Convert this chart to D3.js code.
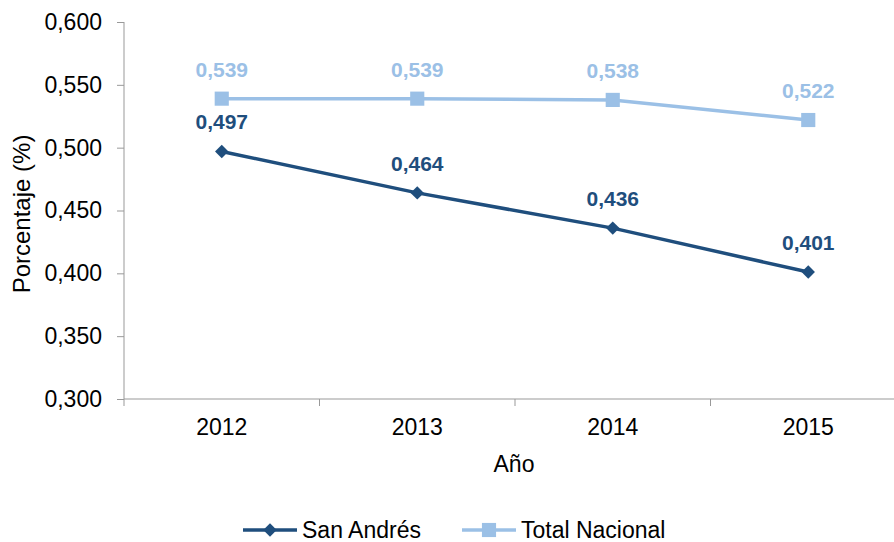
<!DOCTYPE html>
<html>
<head>
<meta charset="utf-8">
<script src="https://cdn.jsdelivr.net/npm/d3@7"></script>
<style>
  body { margin: 0; background: #fff; }
  text { font-family: "Liberation Sans", Arial, sans-serif; }
</style>
</head>
<body>
<svg width="894" height="542"></svg>
<script>
var years = ["2012", "2013", "2014", "2015"];
var sanAndres = [0.497, 0.464, 0.436, 0.401];
var totalNacional = [0.539, 0.539, 0.538, 0.522];
var yTicks = [0.300, 0.350, 0.400, 0.450, 0.500, 0.550, 0.600];

var svg = d3.select("svg");
var plotLeft = 124, plotTop = 22, plotBottom = 399, bandW = 195.5;

var x = d3.scaleBand().domain(years).range([plotLeft, plotLeft + bandW * years.length]);
var y = d3.scaleLinear().domain([0.3, 0.6]).range([plotBottom, plotTop]);
var fmt = function(v) { return d3.format(".3f")(v).replace(".", ","); };

var dark = "#1F4E7D", light = "#9BC0E6";
var fs = 23;

// y axis
var yAxis = svg.append("g").attr("transform", "translate(" + plotLeft + ",0)")
  .call(d3.axisLeft(y).tickValues(yTicks).tickFormat(fmt).tickSize(7).tickPadding(15));
yAxis.select(".domain").attr("stroke", "#999").attr("d", "M0," + plotTop + "V" + (plotBottom + 7));
yAxis.selectAll(".tick line").attr("stroke", "#999");
yAxis.selectAll(".tick text").attr("font-size", fs).attr("fill", "#000")
  .style("font-family", "Liberation Sans, Arial, sans-serif");

// x axis
var xg = svg.append("g").attr("transform", "translate(0," + plotBottom + ")");
xg.append("line").attr("x1", plotLeft).attr("x2", 894).attr("stroke", "#999");
xg.selectAll("line.tk").data(years.slice(1)).enter().append("line").attr("class", "tk")
  .attr("x1", function(d) { return x(d); }).attr("x2", function(d) { return x(d); })
  .attr("y1", 0).attr("y2", 7).attr("stroke", "#999");
xg.selectAll("text").data(years).enter().append("text")
  .attr("x", function(d) { return x(d) + x.bandwidth() / 2; })
  .attr("y", 36).attr("text-anchor", "middle").attr("font-size", fs).text(function(d) { return d; });

// axis titles
svg.append("text").attr("transform", "translate(30,214) rotate(-90)")
  .attr("text-anchor", "middle").attr("font-size", 24).text("Porcentaje (%)");
svg.append("text").attr("x", 514).attr("y", 472).attr("text-anchor", "middle")
  .attr("font-size", fs).text("Año");

var cx = function(d, i) { return x(years[i]) + x.bandwidth() / 2; };
var line = d3.line().x(cx).y(function(d) { return y(d); });

function drawSeries(vals, color, isSquare) {
  var g = svg.append("g");
  g.append("path").datum(vals).attr("d", line).attr("fill", "none")
    .attr("stroke", color).attr("stroke-width", 3.5);
  g.selectAll("path.m").data(vals).enter().append("path").attr("class", "m")
    .attr("d", d3.symbol().type(d3.symbolSquare).size(isSquare ? 200 : 90))
    .attr("transform", function(d, i) {
      return "translate(" + cx(d, i) + "," + y(d) + ")" + (isSquare ? "" : " rotate(45)");
    })
    .attr("fill", color);
  g.selectAll("text").data(vals).enter().append("text")
    .attr("x", cx).attr("y", function(d) { return y(d) - 22; })
    .attr("text-anchor", "middle").attr("font-size", 21).attr("font-weight", "bold")
    .attr("fill", color).text(fmt);
}
drawSeries(totalNacional, light, true);
drawSeries(sanAndres, dark, false);

// legend
var legend = [
  { name: "San Andrés", color: dark, diamond: true, x: 243 },
  { name: "Total Nacional", color: light, diamond: false, x: 462 }
];
var lg = svg.selectAll("g.leg").data(legend).enter().append("g").attr("class", "leg")
  .attr("transform", function(d) { return "translate(" + d.x + ",530)"; });
lg.append("line").attr("x1", 0).attr("x2", 54).attr("stroke", function(d) { return d.color; })
  .attr("stroke-width", 3.5);
lg.append("path").attr("d", function(d) {
    return d3.symbol().type(d3.symbolSquare).size(d.diamond ? 90 : 200)();
  })
  .attr("transform", function(d) { return "translate(27,0)" + (d.diamond ? " rotate(45)" : ""); })
  .attr("fill", function(d) { return d.color; });
lg.append("text").attr("x", 59).attr("y", 8).attr("font-size", fs).text(function(d) { return d.name; });
</script>
</body>
</html>
